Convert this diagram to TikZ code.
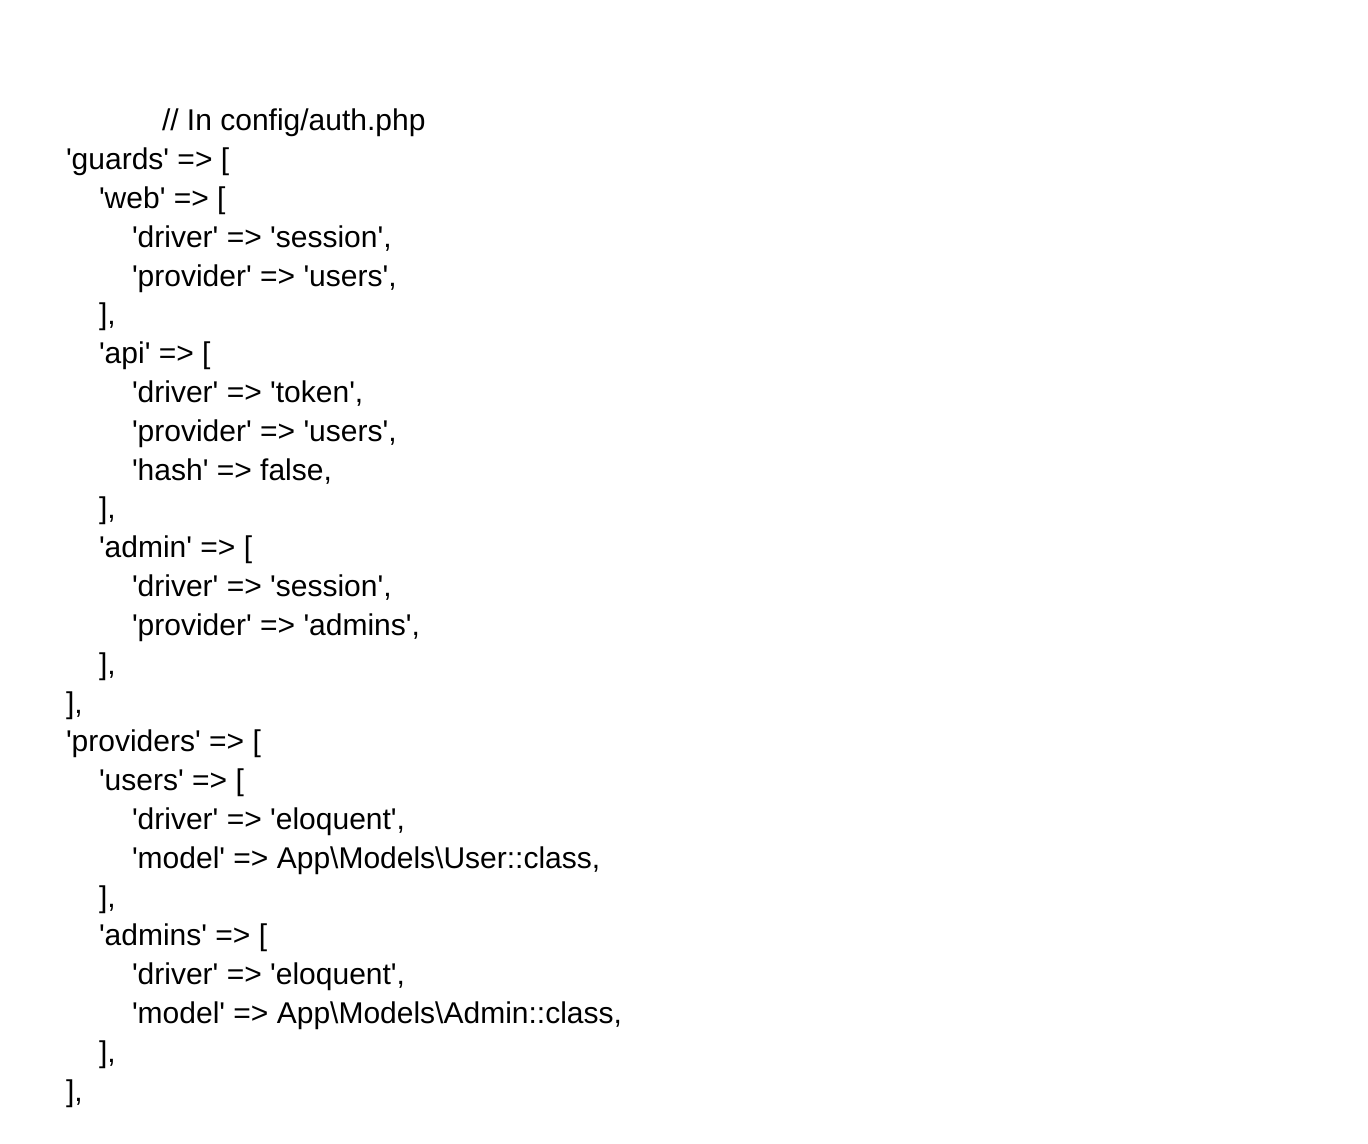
\documentclass[tikz,border=0pt]{standalone}
\usepackage{fontspec}
\setmainfont{Liberation Sans}[Ligatures=TeXOff]
\begin{document}
\begin{tikzpicture}[x=0.75pt,y=-0.75pt,
  codeline/.style={anchor=base west,inner sep=0pt,outer sep=0pt,font=\fontsize{22.5pt}{27pt}\selectfont,text=black}]
\useasboundingbox[fill=white] (0,0) rectangle (1368,1144);
\def\bs{\textbackslash}
\newcommand\cl[3]{\node[codeline] (l#1) at (#2,{131+38.8*(#1-1)}) {#3};}
\cl{1}{162}{// In config/auth.php}
\cl{2}{66}{'guards' => [}
\cl{3}{99}{'web' => [}
\cl{4}{132}{'driver' => 'session',}
\cl{5}{132}{'provider' => 'users',}
\cl{6}{99}{],}
\cl{7}{99}{'api' => [}
\cl{8}{132}{'driver' => 'token',}
\cl{9}{132}{'provider' => 'users',}
\cl{10}{132}{'hash' => false,}
\cl{11}{99}{],}
\cl{12}{99}{'admin' => [}
\cl{13}{132}{'driver' => 'session',}
\cl{14}{132}{'provider' => 'admins',}
\cl{15}{99}{],}
\cl{16}{66}{],}
\cl{17}{66}{'providers' => [}
\cl{18}{99}{'users' => [}
\cl{19}{132}{'driver' => 'eloquent',}
\cl{20}{132}{'model' => App\bs Models\bs User::class,}
\cl{21}{99}{],}
\cl{22}{99}{'admins' => [}
\cl{23}{132}{'driver' => 'eloquent',}
\cl{24}{132}{'model' => App\bs Models\bs Admin::class,}
\cl{25}{99}{],}
\cl{26}{66}{],}
\end{tikzpicture}
\end{document}
